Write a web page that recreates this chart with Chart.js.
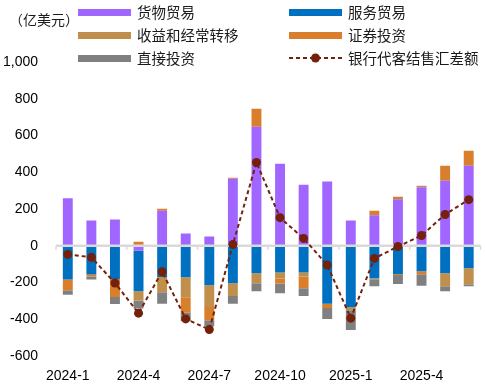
<!DOCTYPE html>
<html lang="zh">
<head>
<meta charset="UTF-8">
<title>银行代客结售汇差额</title>
<style>
    body {
        margin: 0;
        background: #fff;
    }
    #wrap {
        position: relative;
        width: 485px;
        height: 387px;
    }
    #legend .item {
        position: absolute;
        font: 14.5px "Noto Sans CJK SC", sans-serif;
        color: #1a1a1a;
        line-height: 20px;
        white-space: nowrap;
    }
    #unit {
        position: absolute;
        left: 9px;
        top: 9px;
        font: 14px "Noto Sans CJK SC", sans-serif;
        color: #1a1a1a;
        line-height: 20px;
    }
</style>
<script src="https://cdn.jsdelivr.net/npm/chart.js"></script>
</head>
<body>
<div id="wrap">
    <canvas id="chart" width="485" height="387"></canvas>
    <div id="unit">（亿美元）</div>
    <div id="legend"></div>
</div>

<script>
var months = ['2024-1', '2024-2', '2024-3', '2024-4', '2024-5', '2024-6',
              '2024-7', '2024-8', '2024-9', '2024-10', '2024-11', '2024-12',
              '2025-1', '2025-2', '2025-3', '2025-4', '2025-5', '2025-6'];

// 亿美元
var goods     = [258, 137, 143, -27, 191, 67, 50, 365, 647, 446, 332, 349, 137, 166, 253, 318, 354, 436];
var services  = [-184, -156, -181, -221, -170, -172, -215, -204, -150, -145, -145, -316, -335, -177, -154, -139, -150, -123];
var income    = [0, 0, 0, -51, -83, -108, -118, -70, -54, -33, -23, 0, -16, -5, -5, 9, -70, -87];
var portfolio = [-58, -11, -98, 22, 11, -85, -72, 5, 99, -27, -63, -23, 0, 25, 14, -16, 81, 81];
var direct    = [-25, -16, -38, -43, -63, -45, -33, -42, -43, -54, -43, -60, -107, -38, -49, -63, -27, -11];
var netSettle = [-47, -63, -203, -367, -141, -398, -456, 7, 453, 153, 40, -105, -394, -69, -4, 56, 170, 251];

var yTicks = [1000, 800, 600, 400, 200, 0, -200, -400, -600];

var lineColor = '#74200b';

// zero line with small tick marks, drawn under the dashed line
var zeroLine = {
    id: 'zeroLine',
    beforeDatasetDraw: function(chart, args) {
        if (args.meta.type !== 'line') return;
        var ctx = chart.ctx;
        var area = chart.chartArea;
        var y0 = chart.scales.y.getPixelForValue(0);
        var step = (area.right - area.left) / months.length;
        ctx.save();
        ctx.strokeStyle = '#d9d9d9';
        ctx.lineWidth = 2.5;
        ctx.beginPath();
        ctx.moveTo(area.left, y0);
        ctx.lineTo(area.right, y0);
        ctx.stroke();
        ctx.lineWidth = 1.5;
        for (var i = 0; i <= months.length; i += 3) {
            var x = area.left + i * step;
            ctx.beginPath();
            ctx.moveTo(x, y0);
            ctx.lineTo(x, y0 + 4);
            ctx.stroke();
        }
        ctx.restore();
    }
};

function bar(label, data, color) {
    return {
        type: 'bar',
        label: label,
        data: data,
        backgroundColor: color,
        order: 1,
        categoryPercentage: 1,
        barPercentage: 0.42
    };
}

var chart = new Chart(document.getElementById('chart'), {
    data: {
        labels: months,
        datasets: [
            bar('货物贸易', goods, '#a066ff'),
            bar('服务贸易', services, '#0070c0'),
            bar('收益和经常转移', income, '#bf8f4b'),
            bar('证券投资', portfolio, '#d97e2b'),
            bar('直接投资', direct, '#808080'),
            {
                type: 'line',
                label: '银行代客结售汇差额',
                data: netSettle,
                stack: 'net',
                order: 0,
                borderColor: lineColor,
                backgroundColor: lineColor,
                borderWidth: 2,
                borderDash: [4, 3],
                pointRadius: 4.5,
                pointBorderWidth: 0,
                pointBackgroundColor: lineColor,
                tension: 0
            }
        ]
    },
    options: {
        responsive: false,
        animation: false,
        layout: { padding: { top: 62, right: 1, bottom: 0, left: 0 } },
        plugins: {
            legend: { display: false },
            tooltip: { enabled: false }
        },
        scales: {
            x: {
                stacked: true,
                afterFit: function(s) { s.height = 31; },
                grid: { display: false, drawTicks: false },
                border: { display: false },
                ticks: {
                    autoSkip: false,
                    maxRotation: 0,
                    padding: 12,
                    color: '#000',
                    font: { family: 'Liberation Sans', size: 14 },
                    callback: function(v, i) { return i % 3 === 0 ? months[i] : ''; }
                }
            },
            y: {
                stacked: true,
                min: -600,
                max: 1000,
                afterFit: function(s) { s.width = 56; },
                afterBuildTicks: function(s) {
                    s.ticks = yTicks.map(function(v) { return { value: v }; });
                },
                grid: { display: false, drawTicks: false },
                border: { display: false },
                ticks: {
                    padding: 18,
                    color: '#000',
                    font: { family: 'Liberation Sans', size: 14 },
                    callback: function(v) { return v.toLocaleString('en-US'); }
                }
            }
        }
    },
    plugins: [zeroLine]
});

// two-column legend, built from the chart's datasets
var legend = document.getElementById('legend');
var rowY = [12, 35, 58];
chart.data.datasets.forEach(function(ds, i) {
    var col = i % 2, row = Math.floor(i / 2);
    var bx = col === 0 ? 78 : 289;
    var cy = rowY[row];
    var key;
    if (ds.type === 'line') {
        key = document.createElementNS('http://www.w3.org/2000/svg', 'svg');
        key.setAttribute('width', '53');
        key.setAttribute('height', '12');
        key.innerHTML = '<line x1="0" y1="6" x2="53" y2="6" stroke="' + ds.borderColor +
            '" stroke-width="2" stroke-dasharray="4 3"/><circle cx="26.5" cy="6" r="4.5" fill="' + ds.borderColor + '"/>';
        key.style.cssText = 'position:absolute;left:' + bx + 'px;top:' + (cy - 6) + 'px';
    } else {
        key = document.createElement('div');
        key.style.cssText = 'position:absolute;left:' + bx + 'px;top:' + (cy - 3.5) + 'px;width:53px;height:7px;background:' + ds.backgroundColor;
    }
    legend.appendChild(key);
    var txt = document.createElement('div');
    txt.className = 'item';
    txt.textContent = ds.label;
    txt.style.left = (bx + 59) + 'px';
    txt.style.top = (cy - 10) + 'px';
    legend.appendChild(txt);
});
</script>
</body>
</html>
